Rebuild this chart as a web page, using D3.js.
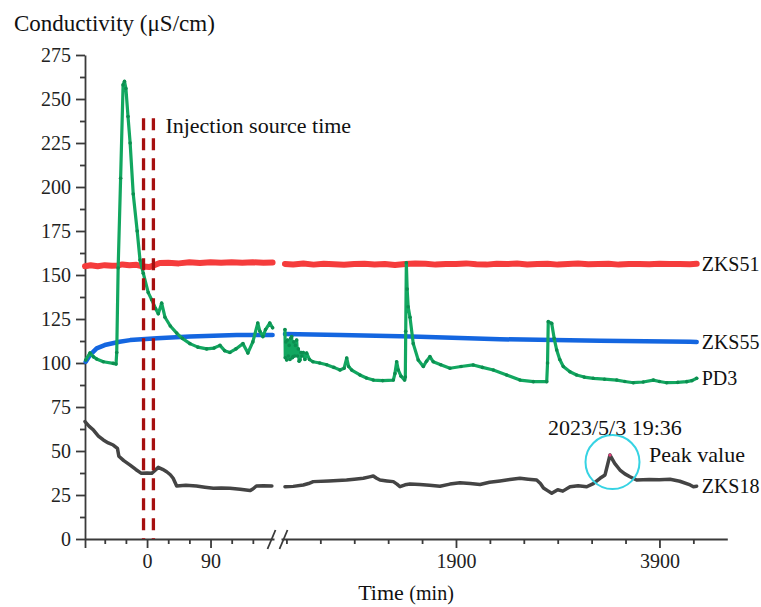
<!DOCTYPE html>
<html>
<head>
<meta charset="utf-8">
<script src="https://cdn.jsdelivr.net/npm/d3@7"></script>
<style>
  html, body { margin: 0; padding: 0; background: #fff; }
  svg { display: block; font-family: "Liberation Serif", "Times New Roman", serif; }
</style>
</head>
<body>
<svg id="chart" width="761" height="607"></svg>
<script>
// ---------------- data ----------------
const yTickValues = [0, 25, 50, 75, 100, 125, 150, 175, 200, 225, 250, 275];
const xMajorLeft = [0, 90];
const xMinorLeft = [-60, -30, 30, 60, 120, 150];
const xMajorRight = [1900, 3900];
const rightMinorStep = 2000 / 6;
const injectionTimes = [-5, 9];
const breakTime = 180;

// [time (min), conductivity (µS/cm)]
const ZKS51 = [
  [-88,155],[-80,155.5],[-70,155],[-60,155.6],[-50,155.2],[-42,155.4],[-35,156],[-25,155.6],
  [-15,155.8],[-5,154.8],[3,154.5],[10,155.5],[18,156.8],[30,157],[45,156.6],[60,157.2],
  [75,156.8],[90,157.3],[105,156.9],[120,157.3],[135,157],[150,157.2],[165,157],[178,157.1],
  [219,156.3],[300,156],[400,156.5],[500,155.9],[600,156.4],[700,156.1],[800,155.8],[900,156.3],
  [1000,156.4],[1100,156],[1200,156.3],[1300,155.7],[1400,156.2],[1500,156.5],[1600,156.4],
  [1700,155.9],[1800,156.3],[1900,156.2],[2000,156.6],[2100,156.1],[2200,155.9],[2300,156.4],
  [2400,156.2],[2500,156.5],[2600,156],[2700,156.3],[2800,156.4],[2900,155.9],[3000,156.2],
  [3100,156.5],[3200,156.1],[3300,156.3],[3400,156.4],[3500,155.9],[3600,156.2],[3700,156.3],
  [3800,156.1],[3900,156.4],[4000,156.2],[4100,156.3],[4200,156.1],[4266,156.4]
];
const ZKS55 = [
  [-87,100.7],[-81,104.5],[-71.5,108.3],[-60,110.2],[-39,112.1],[-24,113],[14,114],[61,115],
  [127,115.9],[178,115.9],
  [219,116.5],[760,115.9],[1350,115.2],[1546,114.9],[2333,113.5],[3316,112.7],[4202,112.1],[4266,112]
];
const PD3 = [
  [-87,101.7],[-81,105.7],[-76,103.5],[-71.5,102.3],[-62,100.7],[-48,99.8],[-44,99.4],[-43,106],
  [-41,154],[-37.5,205],[-34,258],[-32,260],[-30,256],[-27,240],[-24,225],[-19.6,196],[-14,175],
  [-10,158.5],[-5.4,151],[1.7,140],[6.5,136],[12,131],[15.9,128],[20.7,134],[25.4,126],[33,121],
  [42,117],[50,114],[60.8,111],[72,109],[84.5,108],[95,108.5],[103.4,110],[110,107],[117.5,106],
  [126,108],[136,111],[143,105.7],[150,112],[157,122.7],[160,118],[164.3,115],[168,119],[174,122.7],[178,120],
  [219,119],[222,103],[228,112],[236,101.7],[245,113],[252,104],[260,110],[268,102],[276,114],
  [285,115],[292,103],[298,103.6],[306,112],[315,104],[322,110],[334,113],[342,104],[350,108],
  [358,101],[367,101.7],[376,106],[385,104],[399,106],[415,102],[432,105.6],[460,102],[494,100.7],
  [560,100],[629,99],[700,97.5],[760,96],[800,97],[826,102.8],[845,98],[875,96],[956,93.2],
  [1020,91.5],[1087,90.3],[1180,90],[1284,90.3],[1300,94],[1317,100.7],[1333,96],[1360,92.5],
  [1395,90.3],[1402,92],[1406,118],[1412,157],[1420,142],[1430,132],[1448,126],[1480,111],
  [1529,101.7],[1579,98],[1610,101],[1644,103.6],[1677,100.7],[1750,99],[1841,97],[1950,98],
  [2070,98.9],[2160,97.5],[2267,96],[2398,93.2],[2529,90.3],[2660,89.4],[2792,89.4],[2800,100],
  [2807,123.5],[2841,122.5],[2865,114],[2890,107.4],[2920,102],[2955,98],[3020,95],[3086,93.2],
  [3160,92],[3250,91.3],[3360,90.8],[3480,90.3],[3560,89.5],[3643,88.8],[3740,89.2],[3840,90.3],
  [3900,89.5],[3971,88.8],[4080,89],[4168,89.4],[4220,90],[4266,91.3]
];
const ZKS18 = [
  [-88,66.7],[-82,64],[-76,61.9],[-69,58.5],[-62,56.3],[-55,54.6],[-48,53.4],[-42,51.5],[-40,47],
  [-33,44.5],[-24,42],[-16,39.5],[-8,37.3],[0,37.5],[6.5,37.3],[10,38.5],[15.9,40.7],[22,39.6],
  [27.8,38.2],[33,36.5],[37,34.5],[42,30.1],[55,30.5],[70,30.1],[82,29.4],[94,28.8],[105,29],
  [117.5,28.8],[132,28.3],[146,27.5],[150,28.4],[155,30.1],[165,30.2],[177,30.1],
  [219,29.7],[300,29.9],[399,30.7],[450,31.5],[497,32.6],[650,33],[825,33.5],[900,34],[989,34.5],
  [1050,35.3],[1087,35.8],[1120,34.5],[1153,33.5],[1220,33],[1284,32.6],[1320,31.2],[1350,29.7],
  [1400,30.8],[1448,31.3],[1546,31],[1640,30.5],[1743,30],[1840,31.2],[1939,32],[2040,31.5],
  [2136,31],[2230,32.2],[2333,33],[2430,33.8],[2529,34.5],[2610,34],[2693,33.5],[2730,31.5],
  [2760,29],[2800,27.5],[2841,26],[2900,28],[2950,27.2],[3021,29.7],[3100,30.3],[3185,29.7],
  [3250,31.5],[3316,34.5],[3365,36.4],[3414,47.7],[3460,43],[3512,39.2],[3560,37],[3610,35.4],
  [3676,33.5],[3800,33.8],[3900,33.6],[4004,33.9],[4100,32.8],[4202,30.7],[4234,29.7],[4266,30]
];
const peakTime = 3414, peakValue = 47.7;

// ---------------- chart ----------------
const svg = d3.select("#chart");
const W = 761, H = 607;
svg.append("rect").attr("width", W).attr("height", H).attr("fill", "#fff");

const y = d3.scaleLinear().domain([0, 275]).range([539, 55]);
const xL = d3.scaleLinear().domain([-88, breakTime]).range([85, 274]);
const xR = d3.scaleLinear().domain([breakTime, 4567]).range([281, 727.3]);
const xPos = t => (t <= breakTime ? xL(t) : xR(t));

const axisColor = "#3a3a3a";
const fontTick = 20;
const fmt = d3.format("d");

// Y axis
const gy = svg.append("g").attr("transform", `translate(${xL(-88)},0)`);
gy.call(d3.axisLeft(y).tickValues(yTickValues).tickSize(9).tickPadding(5).tickFormat(fmt).tickSizeOuter(0));
const gyMinor = svg.append("g").attr("transform", `translate(${xL(-88)},0)`);
gyMinor.call(d3.axisLeft(y).tickValues(yTickValues.slice(0, -1).map(v => v + 12.5)).tickSize(5).tickFormat("").tickSizeOuter(0));
gyMinor.select(".domain").remove();

// X axis - left part
const gxL = svg.append("g").attr("transform", `translate(0,${y(0)})`);
gxL.call(d3.axisBottom(xL).tickValues([-88, ...xMajorLeft]).tickSize(9).tickPadding(6)
  .tickFormat(d => (xMajorLeft.includes(d) ? fmt(d) : "")).tickSizeOuter(0));
const gxLm = svg.append("g").attr("transform", `translate(0,${y(0)})`);
gxLm.call(d3.axisBottom(xL).tickValues(xMinorLeft).tickSize(5).tickFormat("").tickSizeOuter(0));
gxLm.select(".domain").remove();

// X axis - right part
const rightMinor = d3.range(-5, 8).map(k => 1900 + k * rightMinorStep).filter(t => !xMajorRight.some(m => Math.abs(m - t) < 1));
const gxR = svg.append("g").attr("transform", `translate(0,${y(0)})`);
gxR.call(d3.axisBottom(xR).tickValues(xMajorRight).tickSize(9).tickPadding(6).tickFormat(fmt).tickSizeOuter(0));
const gxRm = svg.append("g").attr("transform", `translate(0,${y(0)})`);
gxRm.call(d3.axisBottom(xR).tickValues(rightMinor).tickSize(5).tickFormat("").tickSizeOuter(0));
gxRm.select(".domain").remove();

svg.selectAll(".domain, .tick line").attr("stroke", axisColor).attr("stroke-width", 1.8);
svg.selectAll("g").attr("font-family", null);
svg.selectAll(".tick text").style("font-family", "'Liberation Serif', 'Times New Roman', serif")
  .attr("font-size", fontTick).attr("fill", "#222");

// axis break marks
const bx = (xL.range()[1] + xR.range()[0]) / 2;
[-6, 6].forEach(off => {
  svg.append("line")
    .attr("x1", bx + off - 4).attr("y1", y(0) + 10)
    .attr("x2", bx + off + 4).attr("y2", y(0) - 9)
    .attr("stroke", axisColor).attr("stroke-width", 1.8);
});

// series
const seg = (data) => [data.filter(d => d[0] <= breakTime), data.filter(d => d[0] > breakTime)];
const line = d3.line().x(d => xPos(d[0])).y(d => y(d[1]));
function drawSeries(data, color, width) {
  seg(data).forEach(s => {
    svg.append("path").datum(s).attr("d", line).attr("fill", "none")
      .attr("stroke", color).attr("stroke-width", width)
      .attr("stroke-linejoin", "round").attr("stroke-linecap", "round");
  });
}
const cRed = "#f53c3c", cBlue = "#1466e0", cGreen = "#12a760", cBlack = "#444444";
drawSeries(ZKS51, cRed, 6);
drawSeries(ZKS55, cBlue, 4.5);
drawSeries(ZKS18, cBlack, 3.5);
drawSeries(PD3, cGreen, 3.2);
svg.append("g").selectAll("circle").data(PD3).join("circle")
  .attr("cx", d => xPos(d[0])).attr("cy", d => y(d[1])).attr("r", 1.8).attr("fill", "#0c8e50");

// injection lines
injectionTimes.forEach(t => {
  svg.append("line")
    .attr("x1", xL(t)).attr("x2", xL(t))
    .attr("y1", y(239)).attr("y2", y(0))
    .attr("stroke", "#a60f0f").attr("stroke-width", 3.3)
    .attr("stroke-dasharray", "12,8");
});
svg.append("text").attr("x", xL(injectionTimes[1]) + 12).attr("y", 133)
  .attr("font-size", 22).attr("fill", "#111").text("Injection source time");

// peak annotation
svg.append("circle").attr("cx", xR(peakTime) + 2.5).attr("cy", y(peakValue) + 7).attr("r", 27)
  .attr("fill", "none").attr("stroke", "#36d3e3").attr("stroke-width", 2);
svg.append("circle").attr("cx", xR(peakTime)).attr("cy", y(peakValue)).attr("r", 1.6).attr("fill", "#e0407a");
svg.append("text").attr("x", 548).attr("y", 435).attr("font-size", 22).attr("fill", "#111").text("2023/5/3 19:36");
svg.append("text").attr("x", 649).attr("y", 462).attr("font-size", 22).attr("fill", "#111").text("Peak value");

// series labels
[[ZKS51, "ZKS51"], [ZKS55, "ZKS55"], [PD3, "PD3"], [ZKS18, "ZKS18"]].forEach(([data, name]) => {
  const last = data[data.length - 1];
  svg.append("text").attr("x", xR(last[0]) + 5).attr("y", y(last[1]) + 7)
    .attr("font-size", 20).attr("fill", "#111").text(name);
});

// titles
svg.append("text").attr("x", 14).attr("y", 31).attr("font-size", 23).attr("fill", "#111")
  .text("Conductivity (μS/cm)");
const xt = svg.append("text").attr("x", 406).attr("y", 600).attr("text-anchor", "middle").attr("fill", "#111");
xt.append("tspan").attr("font-size", 22).text("Time ");
xt.append("tspan").attr("font-size", 20).text("(min)");
</script>
</body>
</html>
